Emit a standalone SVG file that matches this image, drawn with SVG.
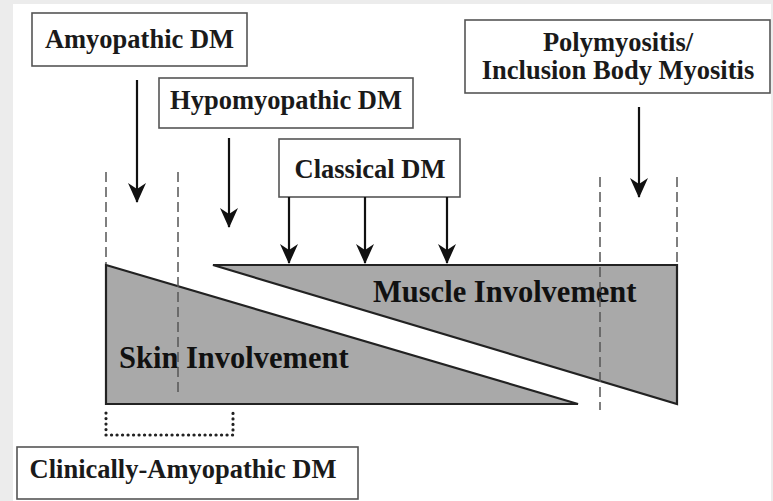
<svg xmlns="http://www.w3.org/2000/svg" width="773" height="501" viewBox="0 0 773 501">
<style>
.bg{fill:#ffffff}
.edge{fill:#ececec}
.box{fill:#ffffff;stroke:#555;stroke-width:1.6}
.lbl{font-family:"Liberation Serif","Times New Roman",serif;font-weight:bold;font-size:26.5px;fill:#1a1a1a;text-anchor:middle}
.big{font-family:"Liberation Serif","Times New Roman",serif;font-weight:bold;font-size:30.5px;fill:#111}
.shape{fill:#a9a9a9;stroke:#222;stroke-width:2.2;stroke-linejoin:miter}
.arrow{stroke:#111;stroke-width:2.2;fill:none;marker-end:url(#ah)}
.dash{stroke:#555;stroke-width:1.5;stroke-dasharray:10 5;fill:none}
.dot{stroke:#222;stroke-width:3.2;stroke-dasharray:0.1 5.4;stroke-linecap:round;fill:none}
</style>
<defs>
<marker id="ah" viewBox="0 0 20 20" refX="19" refY="10" markerWidth="20" markerHeight="20" markerUnits="userSpaceOnUse" orient="auto">
<path d="M0,1 L20,10 L0,19 L6,10 Z" fill="#111"/>
</marker>
</defs>
<rect class="bg" x="0" y="0" width="773" height="501"/>
<rect class="edge" x="0" y="0" width="773" height="4"/>
<rect class="edge" x="0" y="0" width="13" height="501"/>
<rect class="edge" x="771" y="0" width="2" height="501"/>

<g id="skin">
<polygon class="shape" points="106,265 578,404 106,404"/>
<text class="big" x="119" y="368">Skin Involvement</text>
</g>
<g id="muscle">
<polygon class="shape" points="213,265 677,265 677,404"/>
<text class="big" x="373" y="302">Muscle Involvement</text>
</g>

<g id="guides">
<line class="dash" x1="106" y1="172" x2="106" y2="264"/>
<line class="dash" x1="178" y1="172" x2="178" y2="392"/>
<line class="dash" x1="600" y1="177" x2="600" y2="410"/>
<line class="dash" x1="677" y1="177" x2="677" y2="264"/>
<polyline class="dot" points="106,413 106,435 233,435 233,413"/>
</g>

<g id="amyopathic">
<rect class="box" x="32" y="13" width="215" height="53"/>
<text class="lbl" x="139.5" y="48">Amyopathic DM</text>
</g>
<g id="hypomyopathic">
<rect class="box" x="159" y="78" width="254" height="50"/>
<text class="lbl" x="286" y="109">Hypomyopathic DM</text>
</g>
<g id="classical">
<rect class="box" x="279" y="139" width="181" height="58"/>
<text class="lbl" x="370" y="178">Classical DM</text>
</g>
<g id="polymyositis">
<rect class="box" x="465" y="20" width="305" height="73"/>
<text class="lbl" x="618" y="51">Polymyositis/</text>
<text class="lbl" x="618" y="79">Inclusion Body Myositis</text>
</g>
<g id="cadm">
<rect class="box" x="17" y="447" width="341" height="52"/>
<text class="lbl" x="183" y="478">Clinically-Amyopathic DM</text>
</g>

<g id="connectors">
<line class="arrow" x1="137" y1="80" x2="137" y2="202"/>
<line class="arrow" x1="229" y1="138" x2="229" y2="227"/>
<line class="arrow" x1="289" y1="197" x2="289" y2="263"/>
<line class="arrow" x1="365" y1="197" x2="365" y2="263"/>
<line class="arrow" x1="447" y1="197" x2="447" y2="263"/>
<line class="arrow" x1="639" y1="107" x2="639" y2="197"/>
</g>
</svg>
